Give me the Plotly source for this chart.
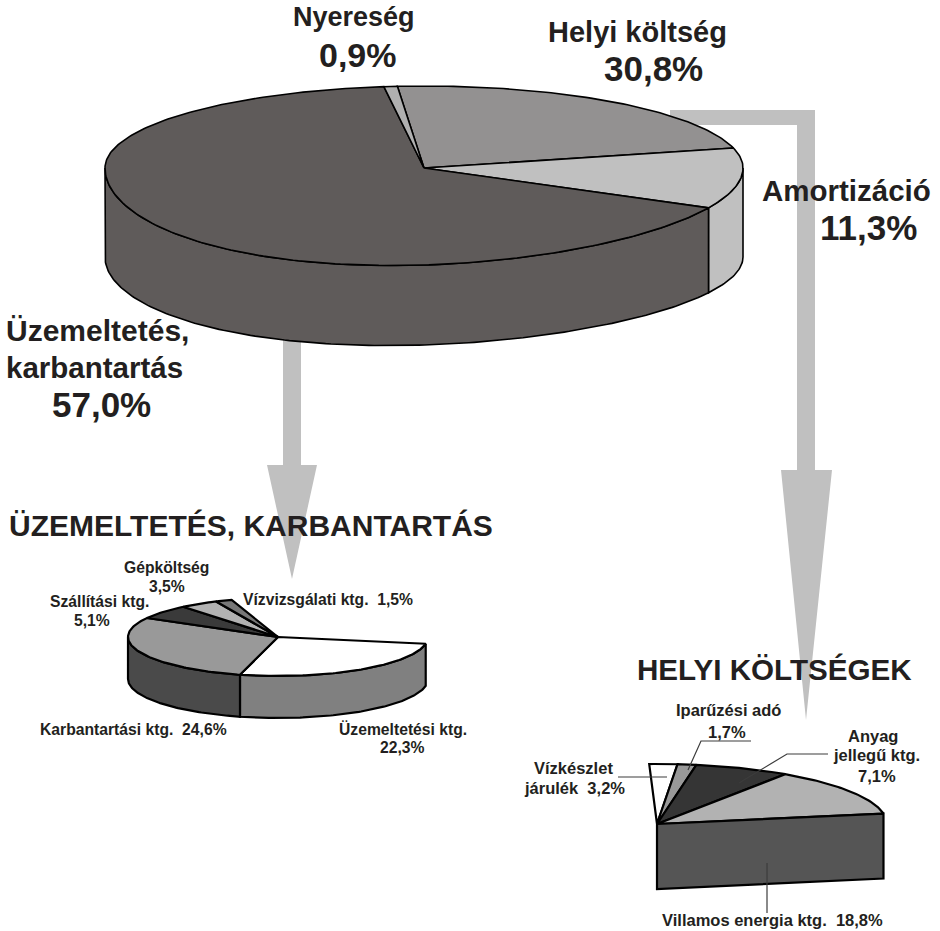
import math
import plotly.graph_objects as go

# ---- data ----
main_names = ["Helyi költség", "Amortizáció", "Üzemeltetés, karbantartás", "Nyereség"]
main_values = [30.8, 11.3, 57.0, 0.9]
main_top = ["#939191", "#c0c0c0", "#5f5b5a", "#b0b0b0"]
main_side = ["#939191", "#c0c0c0", "#5f5b5a", "#b0b0b0"]

ops_names = ["Üzemeltetési ktg.", "Karbantartási ktg.", "Szállítási ktg.", "Gépköltség", "Vízvizsgálati ktg."]
ops_values = [22.3, 24.6, 5.1, 3.5, 1.5]
ops_top = ["#ffffff", "#999999", "#3a3a3a", "#b2b2b2", "#777777"]
ops_side = ["#808080", "#4a4a4a", "#333333", "#999999", "#666666"]

loc_names = ["Vízkészlet járulék", "Iparűzési adó", "Anyag jellegű ktg.", "Villamos energia ktg."]
loc_values = [3.2, 1.7, 7.1, 18.8]
loc_top = ["#ffffff", "#999999", "#353535", "#b2b2b2"]
loc_wall = "#555555"

ARROW = "#c0c0c0"
INK = "#231f20"
FONT = "Liberation Sans"


def pt(g, deg, lower=False):
    r = math.radians(deg)
    c = math.cos(r)
    x = g["cx"] + g["rx"] * math.sin(r)
    skew = -g.get("skew", 0) * math.sin(2 * (r - math.pi / 2)) if c < 0 else 0
    if lower:
        ry = g["ry_low"] if c < 0 else g["ry_back"]
        return x, g["cy"] + g["depth"] - ry * c + skew
    ry = g["ry_front"] if c < 0 else g["ry_back"]
    return x, g["cy"] - ry * c + skew


def arc(g, a, b, lower=False):
    n = max(2, int(abs(b - a) / 1.0) + 1)
    return [pt(g, a + (b - a) * i / (n - 1), lower) for i in range(n)]


def boundaries(values, g):
    """Screen angles of the slice edges, clockwise from the top of the ellipse."""
    total = sum(values)
    out, cum = [], 0.0
    for v in [0.0] + list(values):
        cum += v
        t = g["sweep"] * cum / total
        dev = g["warp_c"] - g["warp_a"] * math.cos(math.radians(g.get("warp_k", 1) * (t - g["warp_b"])))
        out.append(g["start"] + t + dev)
    return out


fig = go.Figure()


def poly(points, fill, name, width, line="#000000"):
    fig.add_trace(go.Scatter(
        x=[p[0] for p in points], y=[p[1] for p in points],
        mode="lines", fill="toself", fillcolor=fill,
        line=dict(color=line, width=width), name=name,
        hoverinfo="name", showlegend=False,
    ))


def leader(points):
    fig.add_trace(go.Scatter(
        x=[p[0] for p in points], y=[p[1] for p in points], mode="lines",
        line=dict(color="#3c3c3c", width=1.2), hoverinfo="skip", showlegend=False,
    ))


def pie3d(names, values, top, side, g, width):
    edges = boundaries(values, g)
    # side walls of the front half
    for i, nm in enumerate(names):
        a = max(edges[i], 90)
        b = min(edges[i + 1], 270)
        if b > a:
            up = arc(g, a, b)
            lo = arc(g, a, b, True)
            poly(up + lo[::-1] + [up[0]], side[i], nm, width)
    # top faces
    for i, nm in enumerate(names):
        apex = (g["cx"], g["cy"])
        poly([apex] + arc(g, edges[i], edges[i + 1]) + [apex], top[i], nm, width)


# arrows, behind everything else
left_arrow = [(283, 338), (301, 338), (301, 465), (317, 465), (292, 579), (267, 465), (283, 465), (283, 338)]
right_arrow = [(670, 110), (815, 110), (815, 470), (832, 470), (806, 720), (781, 470),
               (797, 470), (797, 125), (670, 125), (670, 110)]
for shape in (left_arrow, right_arrow):
    fig.add_trace(go.Scatter(
        x=[p[0] for p in shape], y=[p[1] for p in shape], mode="lines", fill="toself",
        fillcolor=ARROW, line=dict(color=ARROW, width=0), hoverinfo="skip", showlegend=False,
    ))

main_geo = dict(cx=424, cy=168, rx=319, ry_back=82, ry_front=97, ry_low=88, depth=89, skew=5,
                start=0, sweep=360, warp_c=-17, warp_a=19, warp_b=130)
pie3d(main_names, main_values, main_top, main_side, main_geo, 1.6)

ops_geo = dict(cx=278, cy=637, rx=150, ry_back=39, ry_front=39, ry_low=39, depth=42,
               start=100, sweep=242, warp_c=0, warp_a=0, warp_b=0)
pie3d(ops_names, ops_values, ops_top, ops_side, ops_geo, 2.2)

loc_geo = dict(cx=657, cy=824, rx=230, ry_back=60, ry_front=60, ry_low=60, depth=65,
               start=0, sweep=81, warp_c=0, warp_a=3.3, warp_b=9, warp_k=6)
loc_edges = boundaries(loc_values, loc_geo)
for i, nm in enumerate(loc_names):
    apex = (loc_geo["cx"], loc_geo["cy"])
    poly([apex] + arc(loc_geo, loc_edges[i], loc_edges[i + 1]) + [apex], loc_top[i], nm, 2.2)
end = pt(loc_geo, loc_edges[-1])
apex = (loc_geo["cx"], loc_geo["cy"])
d = loc_geo["depth"]
poly([apex, end, (end[0], end[1] + d), (apex[0], apex[1] + d), apex], loc_wall, loc_names[-1], 2.2)

leader([(688, 770), (701, 741), (751, 741)])
leader([(739, 783), (787, 754), (828, 754)])
leader([(618, 777), (667, 777)])
leader([(767, 863), (767, 913)])

LABELS = [
    ("Nyereség", 354, 17, 27, "center"),
    ("0,9%", 358, 55, 34, "center"),
    ("Helyi költség", 637, 32, 29, "center"),
    ("30,8%", 653, 68, 35, "center"),
    ("Amortizáció", 846, 190, 29.5, "center"),
    ("11,3%", 868, 227, 35, "center"),
    ("Üzemeltetés,", 5, 330, 30, "left"),
    ("karbantartás", 5, 367, 29.5, "left"),
    ("57,0%", 101, 404, 35, "center"),
    ("ÜZEMELTETÉS, KARBANTARTÁS", 251, 525, 30, "center"),
    ("HELYI KÖLTSÉGEK", 774, 669, 29.6, "center"),
    ("Gépköltség", 166, 567, 15.7, "center"),
    ("3,5%", 167, 586, 15.7, "center"),
    ("Szállítási ktg.", 99, 601, 15.7, "center"),
    ("5,1%", 92, 620, 15.7, "center"),
    ("Vízvizsgálati ktg.  1,5%", 328, 599, 15.7, "center"),
    ("Karbantartási ktg.  24,6%", 133, 729, 15.7, "center"),
    ("Üzemeltetési ktg.", 403, 729, 15.7, "center"),
    ("22,3%", 402, 747, 15.7, "center"),
    ("Iparűzési adó", 728, 710, 16.5, "center"),
    ("1,7%", 727, 732, 16.5, "center"),
    ("Anyag", 873, 736, 16.5, "center"),
    ("jellegű ktg.", 876, 755, 16.5, "center"),
    ("7,1%", 877, 776, 16.5, "center"),
    ("Vízkészlet", 573, 768, 16.5, "center"),
    ("járulék  3,2%", 574, 788, 16.5, "center"),
    ("Villamos energia ktg.  18,8%", 772, 920, 16.5, "center"),
]
for text, x, y, size, anchor in LABELS:
    fig.add_annotation(
        x=x, y=y, xref="x", yref="y", text=f"<b>{text}</b>", showarrow=False,
        xanchor=anchor, yanchor="middle", align=anchor,
        font=dict(family=FONT, size=size, color=INK), borderpad=0,
    )

fig.update_layout(
    width=940, height=931, autosize=False,
    margin=dict(l=0, r=0, t=0, b=0),
    paper_bgcolor="#ffffff", plot_bgcolor="#ffffff", showlegend=False,
    xaxis=dict(range=[0, 940], visible=False, fixedrange=True),
    yaxis=dict(range=[931, 0], visible=False, fixedrange=True),
)
fig.write_html("out.html", config={"displayModeBar": False},
               default_width="940px", default_height="931px",
               post_script="document.body.style.margin='0';document.documentElement.style.overflow='hidden';")
